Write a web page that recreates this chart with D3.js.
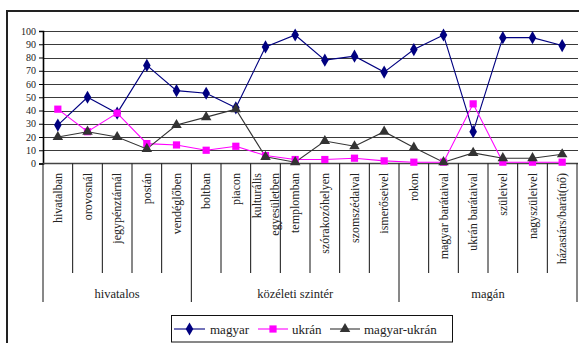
<!DOCTYPE html>
<html>
<head>
<meta charset="utf-8">
<script src="https://cdn.jsdelivr.net/npm/d3@7"></script>
<style>
  html, body { margin: 0; padding: 0; background: #fff; }
  svg { display: block; }
</style>
</head>
<body>
<svg id="chart" width="579" height="343"></svg>
<script>
// Language use by setting (percent of respondents)
const categories = [
  "hivatalban", "orovosnál", "jegypénztárnál", "postán", "vendéglőben",
  "boltban", "piacon", "kulturális|egyesületben", "templomban", "szórakozóhelyen",
  "szomszédaival", "ismerőseivel",
  "rokon", "magyar barátaival", "ukrán barátaival", "szüleivel", "nagyszüleivel", "házastárs/barát(nő)"
];
const groups = [
  { name: "hivatalos", from: 0, to: 5 },
  { name: "közéleti szintér", from: 5, to: 12 },
  { name: "magán", from: 12, to: 18 }
];
const magyar      = [29, 50, 38, 74, 55, 53, 42, 88, 97, 78, 81, 69, 86, 97, 24, 95, 95, 89];
const ukran       = [41, 24, 38, 15, 14, 10, 13,  6,  3,  3,  4,  2,  1,  1, 45,  1,  1,  1];
const magyarUkran = [20, 24, 20, 11, 29, 35, 41,  5,  1, 17, 13, 24, 12,  1,  8,  4,  4,  7];
const yTicks = [0, 10, 20, 30, 40, 50, 60, 70, 80, 90, 100];

const FONT = "'Liberation Serif', 'Times New Roman', serif";

const series = [
  { name: "magyar", values: magyar, color: "#000080", symbol: d3.symbolDiamond, size: 50 },
  { name: "ukrán", values: ukran, color: "#ff00ff", symbol: d3.symbolSquare, size: 52 },
  { name: "magyar-ukrán", values: magyarUkran, color: "#333333", symbol: d3.symbolTriangle, size: 48 }
];

const svg = d3.select("#chart")
  .attr("font-family", FONT);

// outer frame (top and left edges)
svg.append("path")
  .attr("d", "M7,343 V11 H579")
  .attr("fill", "none").attr("stroke", "#222").attr("stroke-width", 2);

const x = d3.scaleBand().domain(d3.range(categories.length)).range([43, 577]).paddingInner(0).paddingOuter(0);
const y = d3.scaleLinear().domain([0, 100]).range([163.5, 31]);

// horizontal gridlines
svg.append("g").selectAll("line").data(yTicks.filter(t => t > 0)).join("line")
  .attr("x1", 43).attr("x2", 578)
  .attr("y1", d => Math.round(y(d)) + 0.5).attr("y2", d => Math.round(y(d)) + 0.5)
  .attr("stroke", "#3a3a3a").attr("stroke-width", 1.2);

// y axis
const yAxis = svg.append("g").attr("transform", "translate(43,0)")
  .call(d3.axisLeft(y).tickValues(yTicks).tickSize(4).tickPadding(3))
  .attr("font-family", FONT).attr("font-size", 10);
yAxis.select(".domain").attr("stroke", "#000").attr("stroke-width", 1.6);
yAxis.selectAll(".tick line").attr("stroke", "#000");
yAxis.selectAll(".tick text").attr("fill", "#222");

// x baseline
svg.append("line").attr("x1", 43).attr("x2", 578).attr("y1", y(0)).attr("y2", y(0))
  .attr("stroke", "#444").attr("stroke-width", 1.4);

// category separators
const boundaries = d3.range(categories.length + 1);
const groupEdges = new Set(groups.flatMap(g => [g.from, g.to]));
svg.append("g").selectAll("line").data(boundaries).join("line")
  .attr("x1", d => (d < categories.length ? x(d) : x.range()[1]))
  .attr("x2", d => (d < categories.length ? x(d) : x.range()[1]))
  .attr("y1", y(0))
  .attr("y2", d => groupEdges.has(d) ? 302 : 273)
  .attr("stroke", "#111").attr("stroke-width", 1);

// category labels, rotated
const catG = svg.append("g").attr("font-size", 12).attr("fill", "#222");
categories.forEach((c, i) => {
  const cx = x(i) + x.bandwidth() / 2;
  const lines = c.split("|");
  lines.forEach((ln, j) => {
    const off = (j - (lines.length - 1) / 2) * 18;
    catG.append("text")
      .attr("transform", `translate(${cx + off + 4},173) rotate(-90)`)
      .attr("text-anchor", "end")
      .text(ln);
  });
});

// group labels
svg.append("g").attr("font-size", 12.5).attr("fill", "#222")
  .selectAll("text").data(groups).join("text")
  .attr("x", d => (x(d.from) + (d.to < categories.length ? x(d.to) : x.range()[1])) / 2)
  .attr("y", 298)
  .attr("text-anchor", "middle")
  .text(d => d.name);

// series lines and markers
const line = d3.line().x((d, i) => x(i) + x.bandwidth() / 2).y(d => y(d));
series.forEach(s => {
  svg.append("path").datum(s.values)
    .attr("d", line).attr("fill", "none")
    .attr("stroke", s.color).attr("stroke-width", 1.1);
});
series.forEach(s => {
  svg.append("g").selectAll("path").data(s.values).join("path")
    .attr("transform", (d, i) => `translate(${x(i) + x.bandwidth() / 2},${y(d)})`)
    .attr("d", d3.symbol().type(s.symbol).size(s.size))
    .attr("fill", s.color);
});

// legend
const lg = svg.append("g").attr("font-size", 13).attr("fill", "#222");
lg.append("rect").attr("x", 171.5).attr("y", 315.5).attr("width", 281).attr("height", 26.5)
  .attr("fill", "#fff").attr("stroke", "#111").attr("stroke-width", 1);
const legendX = [[174, 205, 210], [258, 288, 292], [330, 360, 364]];
series.forEach((s, i) => {
  const [x0, x1, tx] = legendX[i];
  lg.append("line").attr("x1", x0).attr("x2", x1).attr("y1", 329).attr("y2", 329)
    .attr("stroke", s.color).attr("stroke-width", 1.1);
  lg.append("path").attr("transform", `translate(${(x0 + x1) / 2},329)`)
    .attr("d", d3.symbol().type(s.symbol).size(s.size)).attr("fill", s.color);
  lg.append("text").attr("x", tx).attr("y", 334).text(s.name);
});
</script>
</body>
</html>
